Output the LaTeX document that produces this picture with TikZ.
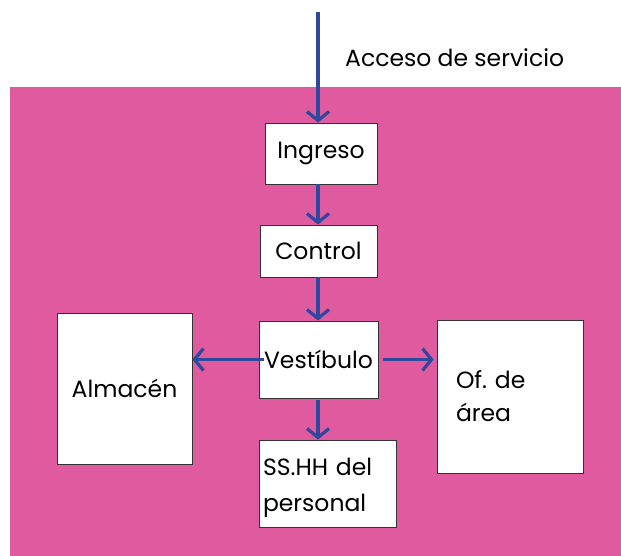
\documentclass[tikz,border=0pt]{standalone}
\usepackage{fontspec}
\setmainfont{Poppins}
\usetikzlibrary{arrows.meta}
\definecolor{pinkbg}{RGB}{224,90,160}
\definecolor{arrowblue}{RGB}{46,72,158}
\begin{document}
\begin{tikzpicture}[x=1pt,y=-1pt,
  roombox/.style={draw=black!80,line width=0.8pt,fill=white,align=left,inner sep=0pt,font=\fontsize{23.5}{33}\selectfont},
  flow/.style={draw=arrowblue,line width=3.5pt,-{Straight Barb[length=9pt,width=22pt,line width=3.2pt]}}]
\useasboundingbox (0,0) rectangle (621,556);
\fill[pinkbg] (10,87) rectangle (621,556);
\coordinate (top) at (318,12);
\node[font=\fontsize{23.5}{28}\selectfont,anchor=west,inner sep=0pt] (lbl) at (345,58) {Acceso de servicio};
\node[roombox,minimum width=112pt,minimum height=61pt] (ing) at (321,153.5) {Ingreso};
\node[roombox,minimum width=117pt,minimum height=52pt] (ctl) at (318.5,251) {Control};
\node[roombox,minimum width=119pt,minimum height=77pt] (ves) at (318.5,359.5) {Vestíbulo};
\node[roombox,minimum width=135pt,minimum height=151pt] (alm) at (124.5,388.5) {Almacén};
\node[roombox,minimum width=146pt,minimum height=153pt,text width=108pt] (ofa) at (510,396.5) {Of.\ de\\área};
\node[roombox,minimum width=137pt,minimum height=87pt,text width=129pt,font=\fontsize{23.5}{36}\selectfont] (ssh) at (327.5,483.5) {\strut SS.HH del\\personal};
\draw[flow] (top) -- (ing.north -| top);
\draw[flow] (ing.south -| top) -- (ctl.north -| top);
\draw[flow] (ctl.south -| top) -- (ves.north -| top);
\draw[flow] ([xshift=5pt]ves.west) -- (alm.east |- ves.west);
\draw[flow] ([xshift=5pt]ves.east) -- ([xshift=-3pt]ofa.west |- ves.east);
\draw[flow] ([yshift=-2pt]ves.south -| top) -- (ssh.north -| top);
\end{tikzpicture}
\end{document}
